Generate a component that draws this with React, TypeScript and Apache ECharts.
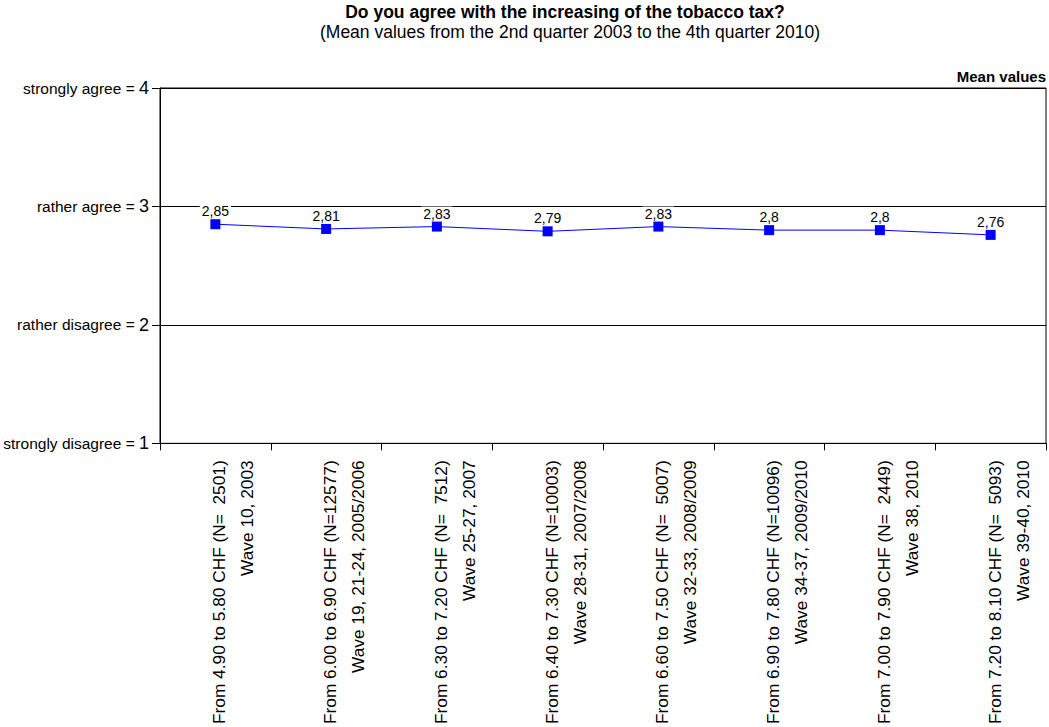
import React, { useEffect, useRef } from "react";
import * as echarts from "echarts";

const priceLabels = [
  "From 4.90 to 5.80 CHF (N=  2501)",
  "From 6.00 to 6.90 CHF (N=12577)",
  "From 6.30 to 7.20 CHF (N=  7512)",
  "From 6.40 to 7.30 CHF (N=10003)",
  "From 6.60 to 7.50 CHF (N=  5007)",
  "From 6.90 to 7.80 CHF (N=10096)",
  "From 7.00 to 7.90 CHF (N=  2449)",
  "From 7.20 to 8.10 CHF (N=  5093)",
];
const waveLabels = [
  "Wave 10, 2003",
  "Wave 19, 21-24, 2005/2006",
  "Wave 25-27, 2007",
  "Wave 28-31, 2007/2008",
  "Wave 32-33, 2008/2009",
  "Wave 34-37, 2009/2010",
  "Wave 38, 2010",
  "Wave 39-40, 2010",
];
const meanValues = [2.85, 2.81, 2.83, 2.79, 2.83, 2.8, 2.8, 2.76];
const yTickNames: Record<number, string> = {
  1: "strongly disagree = ",
  2: "rather disagree = ",
  3: "rather agree = ",
  4: "strongly agree = ",
};

const categories = priceLabels.map((p, i) => p + "|" + waveLabels[i]);
const FONT = "Liberation Sans, Arial, sans-serif";

export default function App() {
  const ref = useRef<HTMLDivElement>(null);
  useEffect(() => {
    if (!ref.current) return;
    const chart = echarts.init(ref.current, null, { renderer: "svg" });
    chart.setOption({
      animation: false,
      textStyle: { fontFamily: FONT, color: "#000" },
      graphic: [
        {
          type: "text",
          x: 565,
          y: 12,
          style: {
            text: "Do you agree with the increasing of the tobacco tax?",
            font: `bold 17.5px ${FONT}`,
            fill: "#000",
            align: "center",
            verticalAlign: "middle",
          },
        },
        {
          type: "text",
          x: 570,
          y: 32,
          style: {
            text: "(Mean values from the 2nd quarter 2003 to the 4th quarter 2010)",
            font: `17.5px ${FONT}`,
            fill: "#000",
            align: "center",
            verticalAlign: "middle",
          },
        },
        {
          type: "text",
          x: 1046,
          y: 76,
          style: {
            text: "Mean values",
            font: `bold 15px ${FONT}`,
            fill: "#000",
            align: "right",
            verticalAlign: "middle",
          },
        },
      ],
      grid: {
        left: 160,
        right: 3,
        top: 88,
        bottom: 283,
        show: true,
        borderColor: "#000",
        borderWidth: 1,
        backgroundColor: "transparent",
      },
      xAxis: {
        type: "category",
        data: categories,
        boundaryGap: true,
        axisLine: { lineStyle: { color: "#000", width: 1 } },
        axisTick: { show: true, length: 7, inside: false, lineStyle: { color: "#000" } },
        axisLabel: {
          rotate: 90,
          interval: 0,
          margin: 17,
          color: "#000",
          formatter: (v: string) => {
            const [a, b] = v.split("|");
            return `{e| }\n{a|${a}}\n{a|${b}}`;
          },
          rich: {
            e: { fontFamily: FONT, fontSize: 17.3, lineHeight: 36, color: "#000" },
            a: { fontFamily: FONT, fontSize: 17.3, lineHeight: 28, color: "#000" },
          },
        },
      },
      yAxis: {
        type: "value",
        min: 1,
        max: 4,
        interval: 1,
        axisLine: { show: true, lineStyle: { color: "#000", width: 1 } },
        axisTick: { show: true, length: 8, lineStyle: { color: "#000" } },
        splitLine: { show: true, lineStyle: { color: "#000", width: 1 } },
        axisLabel: {
          margin: 11,
          formatter: (v: number) => `{t|${yTickNames[v] ?? ""}}{n|${v}}`,
          rich: {
            t: { fontFamily: FONT, fontSize: 15.5, color: "#000" },
            n: { fontFamily: FONT, fontSize: 18, color: "#000" },
          },
        },
      },
      series: [
        {
          type: "line",
          data: meanValues,
          symbol: "rect",
          symbolSize: 10,
          itemStyle: { color: "#0000FF" },
          lineStyle: { color: "#0000FF", width: 1 },
          label: {
            show: true,
            position: "top",
            distance: 1,
            fontFamily: FONT,
            fontSize: 14,
            color: "#000",
            backgroundColor: "#fff",
            padding: [0, 2],
            formatter: (p: any) => String(p.value).replace(".", ","),
          },
        },
      ],
    });
    return () => chart.dispose();
  }, []);
  return (
    <div
      ref={ref}
      style={{ position: "absolute", left: 0, top: 0, width: 1049, height: 727 }}
    />
  );
}
